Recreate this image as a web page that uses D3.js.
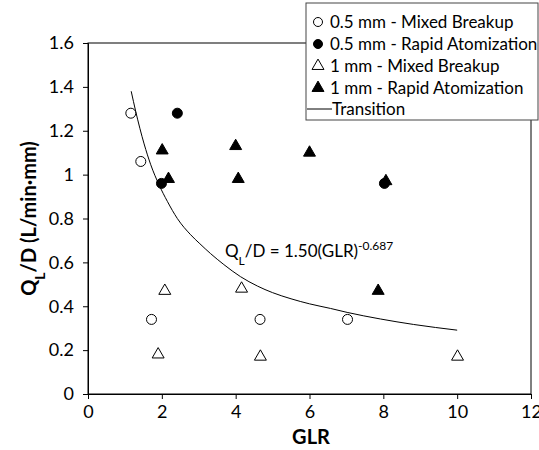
<!DOCTYPE html>
<html><head><meta charset="utf-8">
<script src="https://cdn.jsdelivr.net/npm/d3@7"></script>
<style>body{margin:0;background:#fff}svg{display:block}text{font-family:Lato,"Open Sans",sans-serif;fill:#000}</style>
</head><body><svg id="c" width="539" height="450"></svg>
<script>
// Data
const mixed05X = [1.16, 1.43, 1.72, 4.66, 7.03];
const mixed05Y = [1.28, 1.06, 0.34, 0.34, 0.34];
const rapid05X = [2.42, 1.99, 8.03];
const rapid05Y = [1.28, 0.96, 0.96];
const mixed1X = [2.08, 4.16, 1.90, 4.67, 10.01];
const mixed1Y = [0.47, 0.48, 0.18, 0.17, 0.17];
const rapid1X = [2.01, 4.00, 2.18, 4.07, 6.00, 8.07, 7.86];
const rapid1Y = [1.11, 1.13, 0.98, 0.98, 1.10, 0.97, 0.47];
const transX = [1.17, 1.29, 1.52, 1.70, 1.92, 2.15, 2.42, 2.78, 3.03, 3.32, 3.68, 4.13, 4.59, 5.0, 5.5, 6.0, 6.57, 7.02, 7.92, 8.82, 10.0];
const transY = [1.38, 1.29, 1.14, 1.045, 0.955, 0.878, 0.80, 0.726, 0.685, 0.64, 0.59, 0.535, 0.492, 0.462, 0.434, 0.411, 0.390, 0.372, 0.342, 0.317, 0.291];
const xTicks = [0, 2, 4, 6, 8, 10, 12];
const yTicks = [0, 0.2, 0.4, 0.6, 0.8, 1, 1.2, 1.4, 1.6];
const legendLabels = ["0.5 mm - Mixed Breakup", "0.5 mm - Rapid Atomization", "1 mm - Mixed Breakup", "1 mm - Rapid Atomization", "Transition"];

const svg = d3.select("#c");
const L = 88, R = 531, T = 43, B = 394;
const x = d3.scaleLinear().domain([0, 12]).range([L, R]);
const y = d3.scaleLinear().domain([0, 1.6]).range([B, T]);

// plot frame
svg.append("rect").attr("x", L).attr("y", T).attr("width", R - L).attr("height", B - T)
  .attr("fill", "none").attr("stroke", "#000").attr("stroke-width", 1);

const xa = svg.append("g").attr("transform", `translate(0,${B})`)
  .call(d3.axisBottom(x).tickValues(xTicks).tickSize(5).tickPadding(6).tickFormat(d3.format("~g")));
const ya = svg.append("g").attr("transform", `translate(${L},0)`)
  .call(d3.axisLeft(y).tickValues(yTicks).tickSize(5).tickPadding(9).tickFormat(d3.format("~g")));
[xa, ya].forEach(g => {
  g.selectAll("path,line").attr("stroke", "#000");
  g.selectAll("text").style("font-size", "18px").style("font-family", "Lato, sans-serif").attr("fill", "#000");
});

// axis titles
svg.append("text").attr("x", 311).attr("y", 444).attr("text-anchor", "middle")
  .style("font-size", "20px").style("font-weight", "bold").text("GLR");
const yt = svg.append("text").attr("transform", `translate(36,${(T + B) / 2}) rotate(-90)`)
  .attr("text-anchor", "middle").style("font-size", "20px").style("font-weight", "bold");
yt.append("tspan").text("Q");
yt.append("tspan").attr("baseline-shift", "sub").style("font-size", "14px").text("L");
yt.append("tspan").text("/D (L/min·mm)");

// transition curve
const line = d3.line().x(d => x(d[0])).y(d => y(d[1])).curve(d3.curveMonotoneX);
svg.append("path").datum(d3.zip(transX, transY)).attr("d", line)
  .attr("fill", "none").attr("stroke", "#000").attr("stroke-width", 1);

// markers
const tri = d3.symbol().type(d3.symbolTriangle).size(62);
function circles(xs, ys, filled) {
  svg.append("g").selectAll("circle").data(d3.zip(xs, ys)).join("circle")
    .attr("cx", d => x(d[0])).attr("cy", d => y(d[1])).attr("r", 5)
    .attr("fill", filled ? "#000" : "#fff").attr("stroke", "#000").attr("stroke-width", 1);
}
function triangles(xs, ys, filled) {
  svg.append("g").selectAll("path").data(d3.zip(xs, ys)).join("path")
    .attr("transform", d => `translate(${x(d[0])},${y(d[1])})`).attr("d", tri)
    .attr("fill", filled ? "#000" : "#fff").attr("stroke", "#000").attr("stroke-width", 1);
}
circles(mixed05X, mixed05Y, false);
triangles(mixed1X, mixed1Y, false);
circles(rapid05X, rapid05Y, true);
triangles(rapid1X, rapid1Y, true);

// equation
const eq = svg.append("text").attr("x", 225).attr("y", 257).style("font-size", "17px");
eq.append("tspan").text("Q");
eq.append("tspan").attr("baseline-shift", "sub").style("font-size", "12px").text("L");
eq.append("tspan").text("/D = 1.50(GLR)");
eq.append("tspan").attr("baseline-shift", "super").style("font-size", "12px").text("-0.687");

// legend
const lg = svg.append("g");
lg.append("rect").attr("x", 306).attr("y", 3).attr("width", 232).attr("height", 117)
  .attr("fill", "#fff").attr("stroke", "#444").attr("stroke-width", 1);
const rowsY = [22, 44, 66, 88, 109];
legendLabels.forEach((lab, i) => {
  const cy = rowsY[i], mx = 318;
  if (i === 0 || i === 1) {
    lg.append("circle").attr("cx", mx).attr("cy", cy).attr("r", 4.5)
      .attr("fill", i === 1 ? "#000" : "#fff").attr("stroke", "#000");
  } else if (i === 2 || i === 3) {
    lg.append("path").attr("transform", `translate(${mx},${cy})`).attr("d", tri)
      .attr("fill", i === 3 ? "#000" : "#fff").attr("stroke", "#000");
  } else {
    lg.append("line").attr("x1", 307).attr("x2", 332).attr("y1", cy).attr("y2", cy).attr("stroke", "#000");
  }
  lg.append("text").attr("x", i === 4 ? 332 : 330).attr("y", cy).attr("dy", "0.35em")
    .style("font-size", "17px").text(lab);
});
</script></body></html>
